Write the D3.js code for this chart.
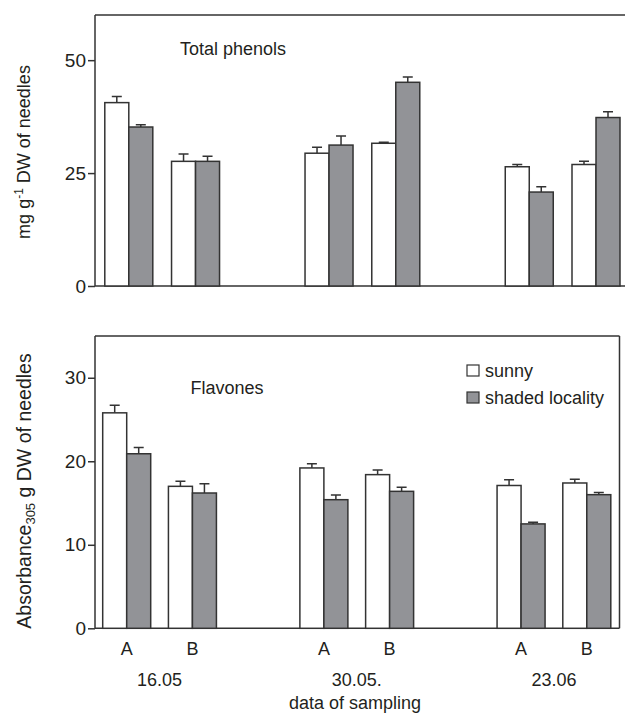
<!DOCTYPE html>
<html>
<head>
<meta charset="utf-8">
<script src="https://cdn.jsdelivr.net/npm/d3@7"></script>
<style>
  body { margin: 0; background: #fff; }
  text { font-family: "Liberation Sans", Arial, sans-serif; fill: #231f20; }
</style>
</head>
<body>
<div id="chart"></div>
<script>
// data
let dates = ["16.05", "30.05.", "23.06"];
let sites = ["A", "B"];
let series = ["sunny", "shaded locality"];

// order: 16.05 A, 16.05 B, 30.05 A, 30.05 B, 23.06 A, 23.06 B
let phenols_sunny = [40.6, 27.6, 29.4, 31.6, 26.4, 26.9];
let phenols_sunny_err = [1.35, 1.6, 1.3, 0.25, 0.5, 0.7];
let phenols_shaded = [35.2, 27.6, 31.2, 45.1, 20.8, 37.3];
let phenols_shaded_err = [0.5, 1.15, 2.0, 1.2, 1.2, 1.3];

let flav_sunny = [25.8, 17.0, 19.2, 18.4, 17.1, 17.4];
let flav_sunny_err = [0.9, 0.6, 0.5, 0.55, 0.7, 0.45];
let flav_shaded = [20.9, 16.2, 15.4, 16.4, 12.5, 16.0];
let flav_shaded_err = [0.75, 1.1, 0.55, 0.5, 0.2, 0.25];

let phenols_ticks = [0, 25, 50];
let flav_ticks = [0, 10, 20, 30];

let fill_colors = ["#ffffff", "#929397"];
let line_color = "#333";
let bar_w = 24;

let svg = d3
  .select("#chart")
  .append("svg")
  .attr("width", 625)
  .attr("height", 713);

function slotOf(i) {
  // two sites per date, one empty slot between dates
  return Math.floor(i / 2) * 3 + (i % 2);
}

function drawPanel(opt) {
  let x = d3.scaleLinear().domain([0, 7]).range(opt.xRange);
  let y = d3.scaleLinear().domain(opt.yDomain).range([opt.y0, opt.yTop]);
  let g = svg.append("g");

  // frame
  let fr = g.append("g").attr("stroke", line_color).attr("stroke-width", 1.5).attr("fill", "none");
  fr.append("line").attr("x1", opt.left).attr("x2", opt.left).attr("y1", opt.yTop).attr("y2", opt.y0);
  fr.append("line").attr("x1", opt.left).attr("x2", opt.right).attr("y1", opt.yTop).attr("y2", opt.yTop);
  fr.append("line").attr("x1", opt.left).attr("x2", opt.right).attr("y1", opt.y0).attr("y2", opt.y0);
  if (opt.rightBorder) {
    fr.append("line").attr("x1", opt.right).attr("x2", opt.right).attr("y1", opt.yTop).attr("y2", opt.y0);
  }

  // y axis
  let ax = g
    .append("g")
    .attr("transform", "translate(" + opt.left + ",0)")
    .call(d3.axisLeft(y).tickValues(opt.ticks).tickSize(7).tickSizeOuter(0).tickPadding(2));
  ax.select(".domain").remove();
  ax.selectAll(".tick line").attr("stroke", line_color).attr("stroke-width", 1.5);
  ax.selectAll(".tick text")
    .style("font-family", "Liberation Sans, Arial, sans-serif")
    .style("font-size", "19px")
    .attr("fill", "#231f20");

  // bars
  [opt.sunny, opt.shaded].forEach(function (vals, s) {
    let errs = s == 0 ? opt.sunnyErr : opt.shadedErr;
    let data = vals.map(function (v, i) {
      return { v: v, e: errs[i], cx: x(slotOf(i)) + (s == 0 ? -bar_w / 2 : bar_w / 2) };
    });
    let bg = g.append("g");
    bg.selectAll(".err")
      .data(data)
      .enter()
      .append("path")
      .attr("d", function (d) {
        let yt = y(d.v + d.e);
        return "M" + d.cx + "," + y(d.v) + "V" + yt + "M" + (d.cx - 5) + "," + yt + "H" + (d.cx + 5);
      })
      .attr("stroke", line_color)
      .attr("stroke-width", 1.5)
      .attr("fill", "none");
    bg.selectAll("rect")
      .data(data)
      .enter()
      .append("rect")
      .attr("x", function (d) { return d.cx - bar_w / 2; })
      .attr("y", function (d) { return y(d.v); })
      .attr("width", bar_w)
      .attr("height", function (d) { return y(0) - y(d.v); })
      .attr("fill", fill_colors[s])
      .attr("stroke", line_color)
      .attr("stroke-width", 1.5);
  });

  g.append("text")
    .attr("x", opt.titleX)
    .attr("y", opt.titleY)
    .style("font-size", "18px")
    .text(opt.title);

  return x;
}

drawPanel({
  xRange: [128.8, 596],
  yDomain: [0, 60],
  y0: 286,
  yTop: 15,
  left: 95,
  right: 625,
  rightBorder: false,
  ticks: phenols_ticks,
  sunny: phenols_sunny,
  sunnyErr: phenols_sunny_err,
  shaded: phenols_shaded,
  shadedErr: phenols_shaded_err,
  title: "Total phenols",
  titleX: 180,
  titleY: 55,
});

let xb = drawPanel({
  xRange: [126.7, 586.8],
  yDomain: [0, 35],
  y0: 628.3,
  yTop: 336,
  left: 95,
  right: 619.5,
  rightBorder: true,
  ticks: flav_ticks,
  sunny: flav_sunny,
  sunnyErr: flav_sunny_err,
  shaded: flav_shaded,
  shadedErr: flav_shaded_err,
  title: "Flavones",
  titleX: 190.5,
  titleY: 394,
});

// x labels
let slots = [];
dates.forEach(function (d, di) {
  sites.forEach(function (s, si) {
    slots.push({ site: s, i: di * 2 + si });
  });
});
svg.append("g")
  .selectAll("text")
  .data(slots)
  .enter()
  .append("text")
  .attr("x", function (d) { return xb(slotOf(d.i)); })
  .attr("y", 655)
  .attr("text-anchor", "middle")
  .style("font-size", "18px")
  .text(function (d) { return d.site; });

svg.append("g")
  .selectAll("text")
  .data(dates)
  .enter()
  .append("text")
  .attr("x", function (d, i) { return (xb(i * 3) + xb(i * 3 + 1)) / 2; })
  .attr("y", 686)
  .attr("text-anchor", "middle")
  .style("font-size", "18px")
  .text(function (d) { return d; });

svg.append("text")
  .attr("x", 355)
  .attr("y", 709)
  .attr("text-anchor", "middle")
  .style("font-size", "18px")
  .text("data of sampling");

// y titles
let yt1 = svg.append("text")
  .attr("transform", "translate(30,152) rotate(-90)")
  .attr("text-anchor", "middle")
  .style("font-size", "18px");
yt1.append("tspan").text("mg g");
yt1.append("tspan").attr("dy", -7).style("font-size", "12px").text("-1");
yt1.append("tspan").attr("dy", 7).text(" DW of needles");

let yt2 = svg.append("text")
  .attr("transform", "translate(31,491) rotate(-90)")
  .attr("text-anchor", "middle")
  .style("font-size", "19.5px");
yt2.append("tspan").text("Absorbance");
yt2.append("tspan").attr("dy", 4).style("font-size", "13px").text("305");
yt2.append("tspan").attr("dy", -4).text(" g DW of needles");

// legend
let lg = svg.append("g")
  .selectAll("g")
  .data(series)
  .enter()
  .append("g")
  .attr("transform", function (d, i) { return "translate(467," + (365 + i * 27) + ")"; });
lg.append("rect")
  .attr("width", 12)
  .attr("height", 11)
  .attr("fill", function (d, i) { return fill_colors[i]; })
  .attr("stroke", line_color)
  .attr("stroke-width", 1.2);
lg.append("text")
  .attr("x", 18)
  .attr("y", 11.5)
  .style("font-size", "18px")
  .text(function (d) { return d; });
</script>
</body>
</html>
